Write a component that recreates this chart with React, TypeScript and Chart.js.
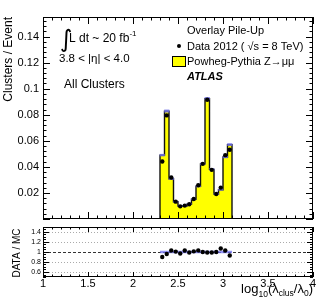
import React, { useEffect, useRef } from 'react';
import { Chart, registerables } from 'chart.js';
Chart.register(...registerables);

const FONT = '"Liberation Sans", Arial, Helvetica, sans-serif';

// bins of log10(lambda_clus/lambda_0)
const binLow = [2.30, 2.35, 2.40, 2.45, 2.50, 2.55, 2.60, 2.65, 2.70, 2.75, 2.80, 2.85, 2.90, 2.95, 3.00, 3.05];
const binWidth = 0.05;
// MC (Powheg-Pythia Z->mumu) clusters / event
const mcValues = [0.0490, 0.0828, 0.0309, 0.0132, 0.0100, 0.0100, 0.0114, 0.0152, 0.0251, 0.0423, 0.0924, 0.0381, 0.0192, 0.0225, 0.0476, 0.0571];
const mcErrors = [0.0007, 0.0009, 0.0006, 0.0004, 0.0003, 0.0003, 0.0004, 0.0004, 0.0005, 0.0007, 0.0009, 0.0006, 0.0005, 0.0005, 0.0007, 0.0008];
// Data 2012
const dataValues = [0.0441, 0.0795, 0.0318, 0.0133, 0.0097, 0.0103, 0.0113, 0.0154, 0.0259, 0.0423, 0.0915, 0.0377, 0.0192, 0.0241, 0.0490, 0.0531];

const xMajorTicks = [1, 1.5, 2, 2.5, 3, 3.5, 4];
const yMainTicks = [0.02, 0.04, 0.06, 0.08, 0.1, 0.12, 0.14];
const yRatioTicks = [0.6, 0.8, 1, 1.2, 1.4];

type Seg = { t: string; size: number; dy?: number; bold?: boolean; italic?: boolean; font?: string };

function drawRich(ctx: CanvasRenderingContext2D, segs: Seg[], x: number, y: number, align: 'left' | 'right' = 'left') {
  const f = (s: Seg) => `${s.italic ? 'italic ' : ''}${s.bold ? 'bold ' : ''}${s.size}px ${s.font || FONT}`;
  let total = 0;
  for (const s of segs) { ctx.font = f(s); total += ctx.measureText(s.t).width; }
  let cx = align === 'right' ? x - total : x;
  ctx.textAlign = 'left';
  ctx.textBaseline = 'alphabetic';
  ctx.fillStyle = '#000';
  for (const s of segs) {
    ctx.font = f(s);
    ctx.fillText(s.t, cx, y + (s.dy || 0));
    cx += ctx.measureText(s.t).width;
  }
}

function drawFrameTicks(chart: any, xMinorStep: number, yMinorStep: number, xMaj: number, xMin: number, yMaj: number, yMin: number, yMajors: number[]) {
  const { ctx, chartArea: a, scales } = chart;
  const xs = scales.x, ys = scales.y;
  ctx.save();
  ctx.strokeStyle = '#000';
  ctx.lineWidth = 1;
  ctx.strokeRect(Math.round(a.left) + 0.5, Math.round(a.top) + 0.5, Math.round(a.right - a.left) - 1, Math.round(a.bottom - a.top) - 1);
  ctx.beginPath();
  const x0 = xs.min, x1 = xs.max;
  for (let v = x0; v <= x1 + 1e-9; v += xMinorStep) {
    const isMaj = xMajorTicks.some((m) => Math.abs(m - v) < 1e-6);
    const len = isMaj ? xMaj : xMin;
    const px = Math.round(xs.getPixelForValue(v)) + 0.5;
    ctx.moveTo(px, a.bottom); ctx.lineTo(px, a.bottom - len);
    ctx.moveTo(px, a.top); ctx.lineTo(px, a.top + len);
  }
  const y0 = ys.min, y1 = ys.max;
  const start = Math.ceil((y0 - 1e-9) / yMinorStep) * yMinorStep;
  for (let v = start; v <= y1 + 1e-9; v += yMinorStep) {
    const isMaj = yMajors.some((m) => Math.abs(m - v) < 1e-6);
    const len = isMaj ? yMaj : yMin;
    const py = Math.round(ys.getPixelForValue(v)) + 0.5;
    ctx.moveTo(a.left, py); ctx.lineTo(a.left + len, py);
    ctx.moveTo(a.right, py); ctx.lineTo(a.right - len, py);
  }
  ctx.stroke();
  ctx.restore();
}

export default function App() {
  const mainRef = useRef<HTMLCanvasElement>(null);
  const ratioRef = useRef<HTMLCanvasElement>(null);

  useEffect(() => {
    const outline: { x: number; y: number }[] = [{ x: binLow[0], y: 0 }];
    binLow.forEach((lo, i) => {
      outline.push({ x: lo, y: mcValues[i] });
      outline.push({ x: lo + binWidth, y: mcValues[i] });
    });
    outline.push({ x: binLow[binLow.length - 1] + binWidth, y: 0 });

    const centers = binLow.map((lo) => lo + binWidth / 2);

    const mainAnno = {
      id: 'mainAnno',
      afterDraw(chart: any) {
        const ctx = chart.ctx;
        drawFrameTicks(chart, 0.1, 0.004, 7, 3.5, 7, 3.5, [0, ...yMainTicks]);
        ctx.save();
        drawRich(ctx, [{ t: '\u222B', size: 24, font: '"DejaVu Sans", sans-serif' }], 60, 47);
        drawRich(ctx, [
          { t: 'L dt ~ 20 fb', size: 12 },
          { t: '-1', size: 8, dy: -6 },
        ], 69, 42);
        drawRich(ctx, [{ t: '3.8 < |\u03B7| < 4.0', size: 11.5 }], 59, 62);
        drawRich(ctx, [{ t: 'All Clusters', size: 12 }], 64, 88);
        drawRich(ctx, [{ t: 'Overlay Pile-Up', size: 11 }], 187, 34);
        drawRich(ctx, [{ t: 'Data 2012 ( \u221As = 8 TeV)', size: 11 }], 187, 50);
        drawRich(ctx, [{ t: 'Powheg-Pythia Z\u2192\u03BC\u03BC', size: 11 }], 187, 65);
        drawRich(ctx, [{ t: 'ATLAS', size: 11, bold: true, italic: true }], 187, 80);
        ctx.fillStyle = '#000';
        ctx.beginPath(); ctx.arc(179, 46, 2, 0, Math.PI * 2); ctx.fill();
        ctx.fillStyle = '#ffff00';
        ctx.fillRect(172, 56, 14, 11);
        ctx.strokeStyle = '#000'; ctx.lineWidth = 1;
        ctx.strokeRect(172.5, 56.5, 13, 10);
        ctx.translate(9, 17);
        ctx.rotate(-Math.PI / 2);
        ctx.font = `12px ${FONT}`;
        ctx.textAlign = 'right';
        ctx.textBaseline = 'middle';
        ctx.fillStyle = '#000';
        ctx.fillText('Clusters / Event', 0, 0);
        ctx.restore();
      },
    };

    const main = new Chart(mainRef.current!, {
      type: 'line',
      data: {
        datasets: [
          {
            type: 'scatter',
            data: centers.map((x, i) => ({ x, y: dataValues[i] })),
            pointRadius: 2.2,
            pointBackgroundColor: '#000',
            pointBorderWidth: 0,
            order: 0,
          } as any,
          {
            type: 'bar',
            data: centers.map((x, i) => ({ x, y: [mcValues[i] - mcErrors[i], mcValues[i] + mcErrors[i]] })),
            backgroundColor: 'rgba(110,110,230,0.85)',
            borderWidth: 0,
            barPercentage: 1,
            categoryPercentage: 1,
            order: 1,
          } as any,
          {
            type: 'line',
            data: outline,
            borderColor: '#111',
            borderWidth: 1.4,
            backgroundColor: '#ffff00',
            fill: 'origin',
            pointRadius: 0,
            tension: 0,
            order: 2,
          } as any,
        ],
      },
      options: {
        animation: false,
        responsive: false,
        devicePixelRatio: 1,
        layout: { padding: { top: 17, right: 16, bottom: 7, left: 0 } },
        plugins: { legend: { display: false }, tooltip: { enabled: false }, title: { display: false } },
        scales: {
          x: { type: 'linear', min: 1, max: 4, offset: false, display: false },
          y: {
            type: 'linear', min: 0, max: 0.155,
            afterBuildTicks: (s: any) => { s.ticks = yMainTicks.map((v) => ({ value: v })); },
            afterFit: (s: any) => { s.width = 43; s.paddingTop = 0; s.paddingBottom = 0; },
            grid: { display: false, drawTicks: false },
            border: { display: false },
            ticks: {
              color: '#000', padding: 4, font: { family: FONT, size: 11 },
              callback: (v: any) => String(+Number(v).toFixed(2)),
            },
          },
        },
      } as any,
      plugins: [mainAnno],
    });

    const ratioAnno = {
      id: 'ratioAnno',
      beforeDatasetsDraw(chart: any) {
        const { ctx, chartArea: a, scales } = chart;
        ctx.save();
        ctx.lineWidth = 1;
        for (const v of yRatioTicks) {
          const py = Math.round(scales.y.getPixelForValue(v)) + 0.5;
          ctx.strokeStyle = v === 1 ? '#333' : '#aaa';
          ctx.setLineDash(v === 1 ? [3, 2] : [1, 2]);
          ctx.beginPath(); ctx.moveTo(a.left, py); ctx.lineTo(a.right, py); ctx.stroke();
        }
        ctx.restore();
      },
      afterDraw(chart: any) {
        const ctx = chart.ctx;
        drawFrameTicks(chart, 0.1, 0.05, 5, 2.5, 6, 3, yRatioTicks);
        ctx.save();
        drawRich(ctx, [
          { t: 'log', size: 13 },
          { t: '10', size: 8.5, dy: 4 },
          { t: '(\u03BB', size: 13 },
          { t: 'clus', size: 8.5, dy: 3 },
          { t: '/\u03BB', size: 13 },
          { t: '0', size: 8.5, dy: 3 },
          { t: ')', size: 13 },
        ], 313, 71, 'right');
        ctx.translate(17, 31);
        ctx.rotate(-Math.PI / 2);
        ctx.font = `10px ${FONT}`;
        ctx.textAlign = 'center';
        ctx.textBaseline = 'middle';
        ctx.fillStyle = '#000';
        ctx.fillText('DATA / MC', 0, 0);
        ctx.restore();
      },
    };

    const ratio = new Chart(ratioRef.current!, {
      type: 'line',
      data: {
        datasets: [
          {
            type: 'scatter',
            data: centers.map((x, i) => ({ x, y: dataValues[i] / mcValues[i] })),
            pointRadius: 2.2,
            pointBackgroundColor: '#000',
            pointBorderWidth: 0,
            order: 0,
          } as any,
          {
            type: 'line',
            data: [{ x: binLow[0], y: 1 }, { x: binLow[binLow.length - 1] + binWidth, y: 1 }],
            borderColor: 'rgba(110,110,240,0.75)',
            borderWidth: 2.5,
            pointRadius: 0,
            fill: false,
            order: 1,
          } as any,
        ],
      },
      options: {
        animation: false,
        responsive: false,
        devicePixelRatio: 1,
        layout: { padding: { top: 5, right: 16, bottom: 0, left: 0 } },
        plugins: { legend: { display: false }, tooltip: { enabled: false }, title: { display: false } },
        scales: {
          x: {
            type: 'linear', min: 1, max: 4, offset: false,
            afterBuildTicks: (s: any) => { s.ticks = xMajorTicks.map((v) => ({ value: v })); },
            afterFit: (s: any) => { s.height = 28; },
            grid: { display: false, drawTicks: false },
            border: { display: false },
            ticks: { color: '#000', padding: 0, maxRotation: 0, font: { family: FONT, size: 11 }, callback: (v: any) => String(v) },
          },
          y: {
            type: 'linear', min: 0.5, max: 1.5,
            afterBuildTicks: (s: any) => { s.ticks = yRatioTicks.map((v) => ({ value: v })); },
            afterFit: (s: any) => { s.width = 43; s.paddingTop = 0; s.paddingBottom = 0; },
            grid: { display: false, drawTicks: false },
            border: { display: false },
            ticks: { color: '#000', padding: 2, font: { family: FONT, size: 7 }, callback: (v: any) => String(+Number(v).toFixed(1)) },
          },
        },
      } as any,
      plugins: [ratioAnno],
    });

    return () => { main.destroy(); ratio.destroy(); };
  }, []);

  return (
    <div style={{ position: 'fixed', left: 0, top: 0, width: 329, height: 305, background: '#fff' }}>
      <canvas ref={mainRef} width={329} height={226} style={{ position: 'absolute', left: 0, top: 0 }} />
      <canvas ref={ratioRef} width={329} height={83} style={{ position: 'absolute', left: 0, top: 222 }} />
    </div>
  );
}
